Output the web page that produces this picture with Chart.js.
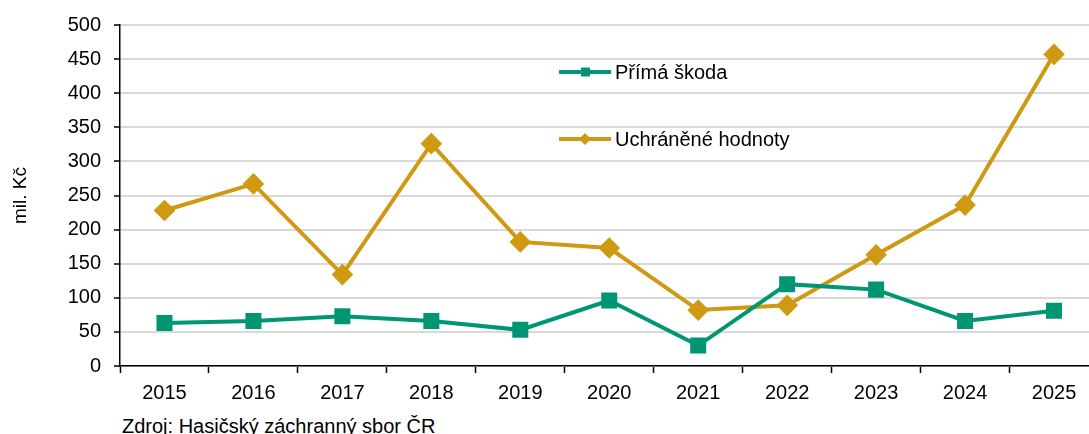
<!DOCTYPE html>
<html>
<head>
<meta charset="utf-8">
<script src="https://cdn.jsdelivr.net/npm/chart.js@4/dist/chart.umd.min.js"></script>
<style>
  html, body { margin: 0; padding: 0; background: #fff; overflow: hidden; }
  #wrap { position: relative; width: 1089px; height: 434px; overflow: hidden; }
  #chart { position: absolute; left: 0; top: 0; }
  #source { position: absolute; left: 122px; top: 416px; font: 20px/20px "Liberation Sans", Arial, sans-serif; color: #000; white-space: nowrap; }
</style>
</head>
<body>
<div id="wrap">
  <canvas id="chart" width="1111" height="400"></canvas>
  <div id="source">Zdroj: Hasičský záchranný sbor ČR</div>
</div>
<script>
document.addEventListener('DOMContentLoaded', () => {
    // Data (mil. Kč)
    const years = ['2015', '2016', '2017', '2018', '2019', '2020', '2021', '2022', '2023', '2024', '2025'];
    const primaSkoda = [63, 66, 73, 66, 53, 96, 30, 120, 112, 66, 81];
    const uchraneneHodnoty = [228, 267, 134, 326, 182, 173, 82, 89, 163, 236, 457];

    const seriesNames = ['Přímá škoda', 'Uchráněné hodnoty'];
    const seriesColors = ['#009674', '#cf9912'];

    const font = '"Liberation Sans", Arial, sans-serif';

    // Legend drawn inside the plot area
    const innerLegend = {
        id: 'innerLegend',
        afterDraw(chart) {
            const ctx = chart.ctx;
            const rows = [72, 139];
            chart.data.datasets.forEach((ds, i) => {
                const y = rows[i];
                ctx.save();
                ctx.strokeStyle = ds.borderColor;
                ctx.lineWidth = 4;
                ctx.beginPath();
                ctx.moveTo(559, y);
                ctx.lineTo(611, y);
                ctx.stroke();
                ctx.fillStyle = ds.borderColor;
                if (ds.pointStyle === 'rect') {
                    ctx.fillRect(581, y - 4.5, 9, 9);
                } else {
                    ctx.beginPath();
                    ctx.moveTo(585, y - 6);
                    ctx.lineTo(591, y);
                    ctx.lineTo(585, y + 6);
                    ctx.lineTo(579, y);
                    ctx.closePath();
                    ctx.fill();
                }
                ctx.fillStyle = '#000';
                ctx.font = '20px ' + font;
                ctx.textBaseline = 'middle';
                ctx.fillText(ds.label, 615, y + 1);
                ctx.restore();
            });
        }
    };

    new Chart(document.getElementById('chart'), {
        type: 'line',
        data: {
            labels: years,
            datasets: [{
                label: seriesNames[0],
                data: primaSkoda,
                borderColor: seriesColors[0],
                backgroundColor: seriesColors[0],
                borderWidth: 4,
                pointStyle: 'rect',
                pointRadius: 8.5,
                pointHoverRadius: 8.5,
                tension: 0
            }, {
                label: seriesNames[1],
                data: uchraneneHodnoty,
                borderColor: seriesColors[1],
                backgroundColor: seriesColors[1],
                borderWidth: 4,
                pointStyle: 'rectRot',
                pointRadius: 8,
                pointHoverRadius: 8,
                tension: 0
            }]
        },
        options: {
            responsive: false,
            animation: false,
            layout: { padding: { top: 21, left: 0, right: 0, bottom: 0 } },
            plugins: {
                legend: { display: false },
                tooltip: { enabled: false }
            },
            scales: {
                x: {
                    offset: true,
                    afterFit: (scale) => { scale.height = 34; },
                    grid: {
                        offset: true,
                        drawOnChartArea: false,
                        tickLength: 7,
                        tickColor: '#000',
                        tickWidth: 1.5
                    },
                    border: { color: '#000', width: 1.5 },
                    ticks: { color: '#000', font: { family: font, size: 20 }, padding: 8 }
                },
                y: {
                    min: 0,
                    max: 500,
                    afterFit: (scale) => { scale.width = 120; },
                    title: {
                        display: true,
                        text: 'mil. Kč',
                        color: '#000',
                        font: { family: font, size: 19 },
                        padding: { top: 9, bottom: 0 }
                    },
                    grid: {
                        color: '#d9d9d9',
                        lineWidth: 2,
                        tickLength: 6,
                        tickColor: '#000',
                        tickWidth: 1.5
                    },
                    border: { color: '#000', width: 1.5 },
                    ticks: {
                        stepSize: 50,
                        color: '#000',
                        font: { family: font, size: 20 },
                        padding: 13
                    }
                }
            }
        },
        plugins: [innerLegend]
    });
});
</script>
</body>
</html>
